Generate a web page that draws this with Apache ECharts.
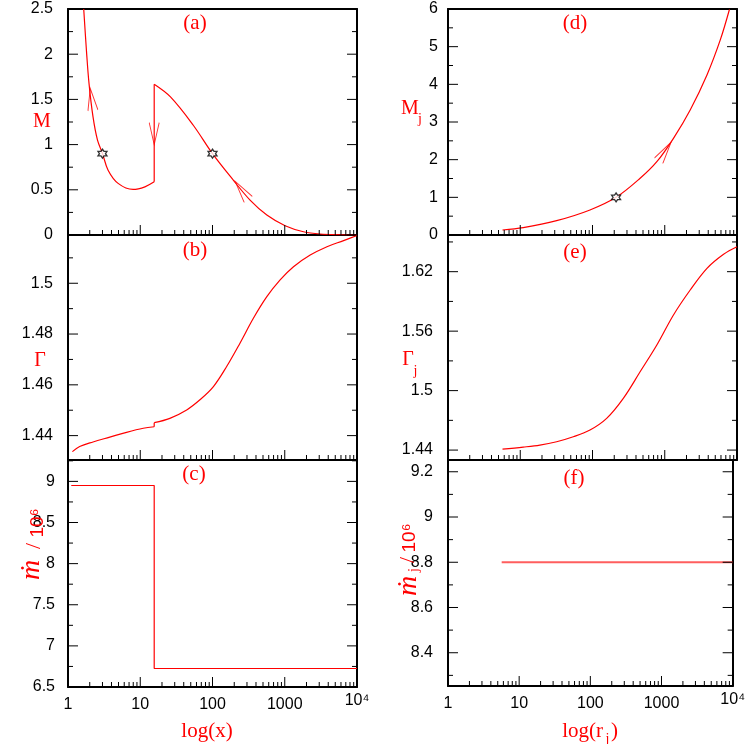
<!DOCTYPE html>
<html><head><meta charset="utf-8">
<script src="https://cdn.jsdelivr.net/npm/echarts@6/dist/echarts.min.js"></script>
<style>html,body{margin:0;padding:0;background:#fff}#c{width:748px;height:744px}</style>
</head><body><div id="c"></div>
<script>
// ---------------- data ----------------
const xTickValues = [1, 10, 100, 1000, 10000];
const xTickLabels = ['1', '10', '100', '1000', '10⁴'];

// (a) M vs x
const aLeftX  = [1.65, 1.80, 1.955, 2.22, 2.56, 3.0, 3.59, 4.94, 7.97, 11.6, 15.6];
const aLeftM  = [2.5, 2.04, 1.674, 1.306, 1.049, 0.902, 0.717, 0.571, 0.504, 0.533, 0.588];
const aJumpX  = [15.6, 15.6];
const aJumpM  = [0.588, 1.667];
const aRightX = [15.6, 26.2, 54.2, 100, 194, 331, 565, 1012, 1817, 3090, 5890, 10000];
const aRightM = [1.667, 1.527, 1.214, 0.90, 0.607, 0.386, 0.221, 0.103, 0.036, 0.011, 0.003, 0.0];
const aStarX  = [3.0, 100];
const aStarM  = [0.9, 0.9];
const aArrowX = [2.12, 15.6, 254];
const aArrowM = [1.5, 1.122, 0.493];
const aArrowRot = [7, 180, 36];
const aYTicks = [0, 0.5, 1, 1.5, 2, 2.5];
const aYMinor = [0.25, 0.75, 1.25, 1.75, 2.25];

// (b) Gamma vs x
const bLeftX  = [1.15, 1.45, 2.22, 3.79, 6.46, 11, 15.6];
const bLeftG  = [1.4337, 1.4357, 1.4375, 1.4394, 1.4413, 1.4429, 1.4435];
const bJumpX  = [15.6, 15.6];
const bJumpG  = [1.4435, 1.4451];
const bRightX = [15.6, 25.7, 43.9, 67, 103, 157, 240, 368, 565, 863, 1321, 2250, 3840, 6520, 10000];
const bRightG = [1.4451, 1.4468, 1.4501, 1.4541, 1.4593, 1.4672, 1.4764, 1.4862, 1.4947, 1.5013, 1.5065, 1.5111, 1.5144, 1.5168, 1.5188];
const bYTicks = [1.44, 1.46, 1.48, 1.5];
const bYMinor = [1.45, 1.47, 1.49, 1.51];

// (c) Mdot/1e6 vs x
const cX = [1.11, 15.6, 15.6, 10000];
const cY = [8.95, 8.95, 6.725, 6.725];
const cYTicks = [6.5, 7, 7.5, 8, 8.5, 9];
const cYMinor = [6.75, 7.25, 7.75, 8.25, 8.75, 9.25];

// (d) Mj vs rj
const dX = [5.68, 11, 31.9, 92.3, 212, 456, 777, 1320, 2250, 3840, 5870, 7890];
const dM = [0.133, 0.194, 0.38, 0.664, 1.0, 1.505, 1.946, 2.567, 3.32, 4.25, 5.18, 6.0];
const dStarX = [212];
const dStarM = [1.0];
const dArrowX = [1003];
const dArrowM = [2.217];
const dArrowRot = [-34];
const dYTicks = [0, 1, 2, 3, 4, 5, 6];
const dYMinor = [0.5, 1.5, 2.5, 3.5, 4.5, 5.5];

// (e) Gamma_j vs rj
const eX = [5.68, 11, 18.7, 31.9, 54.2, 92.3, 157, 267, 456, 777, 1320, 2250, 3840, 6520, 10000];
const eG = [1.441, 1.443, 1.445, 1.4484, 1.4534, 1.4602, 1.472, 1.4922, 1.519, 1.546, 1.5763, 1.6015, 1.6234, 1.6376, 1.6452];
const eYTicks = [1.44, 1.5, 1.56, 1.62];
const eYMinor = [1.47, 1.53, 1.59, 1.65];

// (f) Mdot_j/1e6 vs rj
const fX = [5.68, 10000];
const fY = [8.8, 8.8];
const fYTicks = [8.4, 8.6, 8.8, 9.0, 9.2];
const fYMinor = [8.3, 8.5, 8.7, 8.9, 9.1];

// ---------------- layout / style ----------------
const grids = [
  {left: 68, top: 9,   width: 289, height: 226},
  {left: 68, top: 235, width: 289, height: 225},
  {left: 68, top: 460, width: 289, height: 227},
  {left: 448, top: 9,   width: 289, height: 226},
  {left: 448, top: 235, width: 289, height: 225},
  {left: 448, top: 460, width: 289, height: 226}
];
const yCfg = [
  {min: 0, max: 2.5, major: aYTicks, minor: aYMinor, margin: 15},
  {min: 1.4304, max: 1.519, major: bYTicks, minor: bYMinor, margin: 15},
  {min: 6.5, max: 9.26, major: cYTicks, minor: cYMinor, margin: 13},
  {min: 0, max: 6, major: dYTicks, minor: dYMinor, margin: 10},
  {min: 1.43, max: 1.657, major: eYTicks, minor: eYMinor, margin: 15},
  {min: 8.253, max: 9.252, major: fYTicks, minor: fYMinor, margin: 15}
];
const bottomRow = [false, false, true, false, false, true];
const xMinorValues = [];
for (let n = 0; n < 4; n++) for (let k = 2; k <= 9; k++) xMinorValues.push(k * Math.pow(10, n));

const SANS = '"Liberation Sans", Arial, sans-serif';
const SERIF = '"Liberation Serif", "DejaVu Serif", serif';
const RED = '#ff0000';
const LINE = {show: true, onZero: false, lineStyle: {color: '#000', width: 2}};

const xAxis = [], yAxis = [];
grids.forEach((g, i) => {
  const c = yCfg[i];
  xAxis.push({
    type: 'log', logBase: 10, gridIndex: i, min: 1, max: 10000, position: 'bottom',
    axisLine: LINE, axisTick: {show: false},
    axisLabel: {
      show: bottomRow[i], margin: 10, fontSize: 16, color: '#000', fontFamily: SANS,
      showMinLabel: true, showMaxLabel: true,
      formatter: v => {
        const idx = xTickValues.findIndex(t => Math.abs(t - v) / t < 1e-6);
        if (idx < 0) return '';
        return idx === 4 ? '{up|' + xTickLabels[idx] + '}' : xTickLabels[idx];
      },
      rich: {up: {fontSize: 16, color: '#000', fontFamily: SANS, lineHeight: 8}}
    },
    splitLine: {show: false}
  });
  xAxis.push({
    type: 'log', logBase: 10, gridIndex: i, min: 1, max: 10000, position: 'top',
    axisLine: LINE, axisTick: {show: false}, axisLabel: {show: false}, splitLine: {show: false}
  });
  ['left', 'right'].forEach(pos => {
    yAxis.push({
      type: 'value', gridIndex: i, min: c.min, max: c.max, position: pos,
      axisLine: LINE, axisTick: {show: false},
      axisLabel: pos === 'left'
        ? {show: true, customValues: c.major, formatter: v => String(Math.round(v * 1000) / 1000),
           margin: c.margin, fontSize: 16, color: '#000', fontFamily: SANS}
        : {show: false},
      splitLine: {show: false}
    });
  });
});

function pairs(xs, ys) { return xs.map((x, k) => [x, ys[k]]); }
function lineS(i, name, xs, ys, extra) {
  return Object.assign({
    type: 'line', name, xAxisIndex: 2 * i, yAxisIndex: 2 * i, data: pairs(xs, ys),
    symbol: 'none', smooth: 0.35, lineStyle: {color: RED, width: 1.2}, z: 3
  }, extra || {});
}
const STAR = 'path://M0,-10L2.887,-5L8.66,-5L5.774,0L8.66,5L2.887,5L0,10L-2.887,5L-8.66,5L-5.774,0L-8.66,-5L-2.887,-5Z';
const ARROW = 'path://M0,22L5,0L10,22';
function starS(i, xs, ys) {
  return {type: 'scatter', xAxisIndex: 2 * i, yAxisIndex: 2 * i, data: pairs(xs, ys),
    symbol: STAR, symbolSize: [9, 9], z: 5,
    itemStyle: {color: '#fff', borderColor: '#000', borderWidth: 1.3}};
}
function arrowS(i, xs, ys, rots) {
  return {type: 'scatter', xAxisIndex: 2 * i, yAxisIndex: 2 * i,
    data: xs.map((x, k) => ({value: [x, ys[k]], symbolRotate: rots[k]})),
    symbol: ARROW, symbolSize: [10, 22], z: 4,
    itemStyle: {color: 'rgba(0,0,0,0)', borderColor: RED, borderWidth: 1.3}};
}
// tick marks placed through the axes' scales: [x, y, side(0 bottom,1 left,2 right), length]
function tickS(i) {
  const c = yCfg[i];
  const data = [];
  xTickValues.forEach(v => data.push([v, c.min, 0, 10]));
  xMinorValues.forEach(v => data.push([v, c.min, 0, 5]));
  c.major.forEach(v => { data.push([1, v, 1, 10]); data.push([10000, v, 2, 10]); });
  c.minor.forEach(v => { data.push([1, v, 1, 5]); data.push([10000, v, 2, 5]); });
  return {
    type: 'custom', name: 'ticks', xAxisIndex: 2 * i, yAxisIndex: 2 * i, data, clip: false, silent: true, z: 6,
    encode: {x: 0, y: 1},
    renderItem: (params, api) => {
      const p = api.coord([api.value(0), api.value(1)]);
      const side = api.value(2), len = api.value(3);
      let x2 = p[0], y2 = p[1];
      if (side === 0) y2 = p[1] - len;
      else if (side === 1) x2 = p[0] + len;
      else x2 = p[0] - len;
      return {type: 'line', shape: {x1: p[0], y1: p[1], x2: x2, y2: y2},
              style: {stroke: '#000', lineWidth: 1}};
    }
  };
}

const series = [
  lineS(0, 'M left', aLeftX, aLeftM),
  lineS(0, 'M jump', aJumpX, aJumpM, {smooth: false}),
  lineS(0, 'M right', aRightX, aRightM),
  starS(0, aStarX, aStarM),
  arrowS(0, aArrowX, aArrowM, aArrowRot),
  lineS(1, 'Gamma left', bLeftX, bLeftG),
  lineS(1, 'Gamma jump', bJumpX, bJumpG, {smooth: false}),
  lineS(1, 'Gamma right', bRightX, bRightG),
  lineS(2, 'Mdot', cX, cY, {smooth: false}),
  lineS(3, 'Mj', dX, dM),
  starS(3, dStarX, dStarM),
  arrowS(3, dArrowX, dArrowM, dArrowRot),
  lineS(4, 'Gamma_j', eX, eG),
  lineS(5, 'Mdot_j', fX, fY, {smooth: false, lineStyle: {color: 'rgba(255,40,40,0.75)', width: 2}})
];
grids.forEach((g, i) => series.push(tickS(i)));

function T(text, x, y, size, opts) {
  opts = opts || {};
  return {type: 'text', x, y, silent: true, z: 10, style: {
    text, fill: opts.fill || RED, fontSize: size, fontFamily: opts.family || SERIF,
    fontStyle: opts.italic ? 'italic' : 'normal',
    align: opts.align || 'center', textAlign: opts.align || 'center',
    verticalAlign: 'middle', textVerticalAlign: 'middle'}};
}
const graphic = [
  T('(a)', 195, 23, 21), T('(b)', 195, 250, 21), T('(c)', 194, 474, 21),
  T('(d)', 575, 23, 21), T('(e)', 575, 252, 21), T('(f)', 574, 478, 21),
  T('M', 42, 122, 20),
  T('Γ', 40, 361, 20),
  T('M', 410, 109, 20), T('j', 420, 119, 14),
  T('Γ', 408, 360, 20), T('j', 415.5, 371, 14),
  T('log(x)', 207, 731, 21),
  T('log(r', 603, 731, 21, {align: 'right'}), T('j', 607.5, 739, 14), T(')', 611, 731, 21, {align: 'left'}),
  {type: 'group', x: 36, y: 546, rotation: Math.PI / 2, children: [
    T('ṁ', -24, -4, 28, {italic: true}),
    T('/', 0, -2, 22),
    T('10⁶', 23, 2, 19, {family: SANS})
  ]},
  {type: 'group', x: 410, y: 561, rotation: Math.PI / 2, children: [
    T('ṁ', -25, -1, 28, {italic: true}),
    T('j', -9, 4, 14),
    T('/', 1, -2, 22),
    T('10⁶', 23, 0, 19, {family: SANS})
  ]}
];

const chart = echarts.init(document.getElementById('c'));
chart.setOption({animation: false, grid: grids, xAxis, yAxis, series, graphic});
</script>
</body></html>
